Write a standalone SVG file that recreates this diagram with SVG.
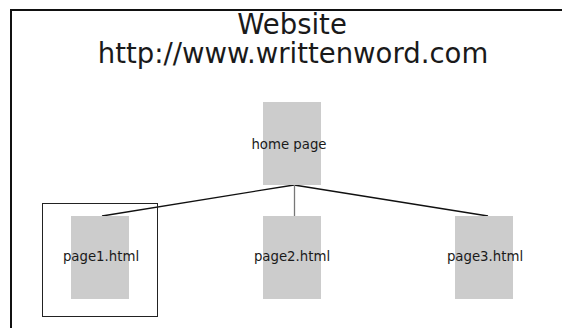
<svg xmlns="http://www.w3.org/2000/svg" width="562" height="328" viewBox="0 0 562 328">
<style>
.page{fill:#cccccc;}
.lbl{font-family:"DejaVu Sans",sans-serif;font-size:13.3px;fill:#1a1a1a;text-anchor:middle;}
.title{font-family:"DejaVu Sans",sans-serif;font-size:27.5px;fill:#1a1a1a;text-anchor:middle;}
.conn{stroke:#111;stroke-width:1.3;fill:none;}
</style>
<rect width="562" height="328" fill="#fff"/>
<g id="frame">
<path d="M11,330 V10 H564" fill="none" stroke="#111" stroke-width="2"/>
<text class="title" x="292" y="34">Website</text>
<text class="title" x="293" y="63">http://www.writtenword.com</text>
</g>
<g id="connectors">
<line class="conn" x1="294" y1="185" x2="102" y2="216"/>
<line class="conn" x1="294" y1="185" x2="488" y2="216"/>
<line x1="294.5" y1="185" x2="294.5" y2="216" stroke="#777" stroke-width="1.3"/>
</g>
<g id="home">
<rect class="page" x="263" y="102" width="58" height="83"/>
<text class="lbl" x="289" y="149">home page</text>
</g>
<g id="page1">
<rect x="42.5" y="203.5" width="115" height="113" fill="none" stroke="#222" stroke-width="1"/>
<rect class="page" x="71" y="216" width="58" height="83"/>
<text class="lbl" x="101" y="261">page1.html</text>
</g>
<g id="page2">
<rect class="page" x="263" y="216" width="58" height="83"/>
<text class="lbl" x="292" y="261">page2.html</text>
</g>
<g id="page3">
<rect class="page" x="455" y="216" width="58" height="83"/>
<text class="lbl" x="485" y="261">page3.html</text>
</g>
</svg>
